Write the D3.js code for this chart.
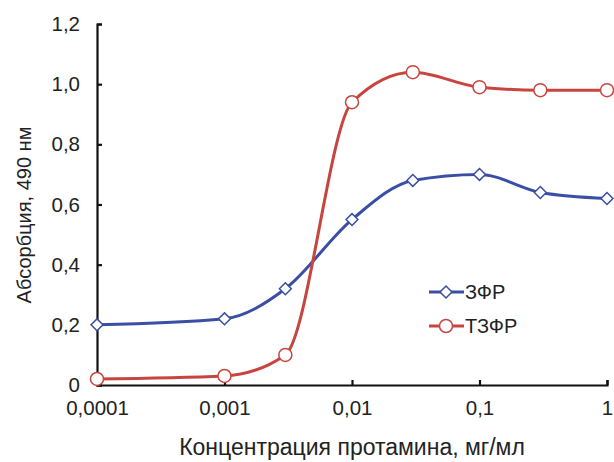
<!DOCTYPE html>
<html>
<head>
<meta charset="utf-8">
<script src="https://cdn.jsdelivr.net/npm/d3@7"></script>
<style>
    body { margin: 0; background: #fff; }
    text { font-family: "Liberation Sans", Arial, sans-serif; fill: #222; }
</style>
</head>
<body>
<svg id="chart" width="614" height="462"></svg>
<script>

let concentrations = [0.0001, 0.001, 0.003, 0.01, 0.03, 0.1, 0.3, 1];
let zfr = [0.20, 0.22, 0.32, 0.55, 0.68, 0.70, 0.64, 0.62];
let tzfr = [0.02, 0.03, 0.10, 0.94, 1.04, 0.99, 0.98, 0.98];
let xTicks = [0.0001, 0.001, 0.01, 0.1, 1];
let xTickLabels = ["0,0001", "0,001", "0,01", "0,1", "1"];
let yTicks = [0, 0.2, 0.4, 0.6, 0.8, 1.0, 1.2];

let margins = { top: 24, right: 7, bottom: 77, left: 97 };
let width = 614 - margins.left - margins.right;
let height = 462 - margins.top - margins.bottom;

let svg = d3.select("#chart");
let g = svg.append("g")
    .attr("transform", "translate(" + margins.left + "," + margins.top + ")");

let x = d3.scaleLog().domain([0.0001, 1]).range([0, width]);
let y = d3.scaleLinear().domain([0, 1.2]).range([height, 0]);

// Axes, ticks pointing inside
let xAxis = g.append("g")
    .attr("transform", "translate(0," + height + ")")
    .call(d3.axisBottom(x)
        .tickValues(xTicks)
        .tickSize(-5)
        .tickPadding(15)
        .tickFormat(function (d, i) { return xTickLabels[i]; }));

let yAxis = g.append("g")
    .call(d3.axisLeft(y)
        .tickValues(yTicks)
        .tickSize(-5)
        .tickPadding(17)
        .tickFormat(function (d) { return d === 0 ? "0" : d3.format(".1f")(d).replace(".", ","); }));

[xAxis, yAxis].forEach(function (a) {
    a.select(".domain").attr("stroke", "#111").attr("stroke-width", 2.2);
    a.selectAll(".tick line").attr("stroke", "#111").attr("stroke-width", 2.2);
    a.selectAll(".tick text").style("font-size", "20.5px").attr("fill", "#222");
});

let series = [
    { name: "ЗФР", values: zfr, color: "#3a4ea6", marker: "diamond" },
    { name: "ТЗФР", values: tzfr, color: "#c8453f", marker: "circle" }
];

let line = d3.line()
    .x(function (d) { return x(d.c); })
    .y(function (d) { return y(d.v); })
    .curve(d3.curveMonotoneX);

function drawMarker(sel, s, cx, cy) {
    if (s.marker === "circle") {
        sel.append("circle")
            .attr("cx", cx).attr("cy", cy).attr("r", 6.5)
            .attr("fill", "#fff").attr("stroke", s.color).attr("stroke-width", 1.5);
    } else {
        sel.append("path")
            .attr("d", d3.symbol().type(d3.symbolDiamond2).size(90)())
            .attr("transform", "translate(" + cx + "," + cy + ")")
            .attr("fill", "#fff").attr("stroke", s.color).attr("stroke-width", 1.5);
    }
}

series.forEach(function (s) {
    let data = s.values.map(function (v, i) { return { c: concentrations[i], v: v }; });
    g.append("path")
        .datum(data)
        .attr("d", line)
        .attr("fill", "none")
        .attr("stroke", s.color)
        .attr("stroke-width", 3);
    let marks = g.append("g");
    data.forEach(function (d) { drawMarker(marks, s, x(d.c), y(d.v)); });
});

// Legend
let legend = svg.append("g").attr("transform", "translate(429,292)");
series.forEach(function (s, i) {
    let row = legend.append("g").attr("transform", "translate(0," + (i * 34) + ")");
    row.append("line")
        .attr("x1", 0).attr("x2", 35)
        .attr("stroke", s.color).attr("stroke-width", 3);
    drawMarker(row, s, 17, 0);
    row.append("text")
        .attr("x", 36).attr("y", 7)
        .style("font-size", "20px")
        .text(s.name);
});

// Axis titles
svg.append("text")
    .attr("transform", "translate(31,215) rotate(-90)")
    .attr("text-anchor", "middle")
    .style("font-size", "20px")
    .text("Абсорбция, 490 нм");

svg.append("text")
    .attr("x", 352)
    .attr("y", 455)
    .attr("text-anchor", "middle")
    .style("font-size", "23px")
    .text("Концентрация протамина, мг/мл");

</script>
</body>
</html>
